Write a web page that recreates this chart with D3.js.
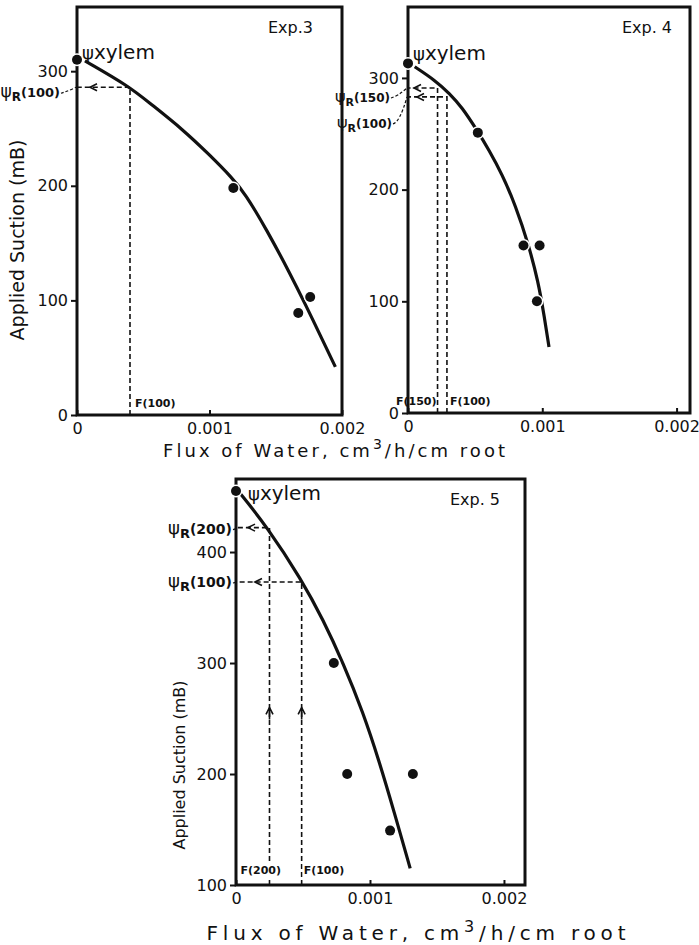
<!DOCTYPE html>
<html>
<head>
<meta charset="utf-8">
<script src="https://cdn.jsdelivr.net/npm/d3@7"></script>
<style>
  body { margin: 0; background: #fff; }
  text { font-family: "DejaVu Sans", sans-serif; fill: #111; }
</style>
</head>
<body>
<div id="chart"></div>
<script>
// flux ticks shared by all three panels (cm3/h/cm root)
var xTicks = [0, 0.001, 0.002];

// Exp. 3  -- [flux, suction mB]
var exp3YTicks = [0, 100, 200, 300];
var exp3Points = [[0, 310], [0.00118, 198], [0.00167, 89], [0.00176, 103]];
var exp3Curve = [[0.00006, 309], [0.00039, 287], [0.00055, 272], [0.0008, 249], [0.001, 227],
                 [0.00117, 207], [0.00127, 193], [0.00143, 162], [0.00161, 123], [0.00173, 95],
                 [0.00183, 71], [0.00195, 42]];
var exp3Refs = [["100", 0.0004, 286]];

// Exp. 4
var exp4YTicks = [0, 100, 200, 300];
var exp4Points = [[0, 313], [0.00052, 251], [0.00086, 150], [0.00098, 150], [0.00096, 100]];
var exp4Curve = [[0.00005, 310], [0.0002, 298], [0.00031, 286], [0.0004, 274], [0.00052, 252],
                 [0.0006, 236], [0.0007, 214], [0.0008, 186], [0.0009, 150], [0.00097, 117],
                 [0.00101, 90], [0.00105, 59]];
var exp4Refs = [["150", 0.00022, 291], ["100", 0.00029, 283]];

// Exp. 5
var exp5YTicks = [100, 200, 300, 400];
var exp5Points = [[0, 455], [0.00073, 300], [0.00083, 200], [0.00132, 200], [0.00115, 149]];
var exp5Curve = [[0.00003, 453], [0.00023, 423], [0.00049, 375], [0.00065, 339], [0.0008, 300],
                 [0.00095, 255], [0.00107, 211], [0.00118, 166], [0.0013, 115]];
var exp5Refs = [["200", 0.00025, 422], ["100", 0.00049, 373]];
var exp5UpArrow = 260;   // suction level of the upward arrows on the F lines

var svg = d3.select("#chart").append("svg")
    .attr("width", 699)
    .attr("height", 945);

svg.append("rect").attr("width", 699).attr("height", 945).attr("fill", "#fff");

function psiLabel(g, x, y, name, size) {
    var t = g.append("text")
        .attr("x", x).attr("y", y)
        .attr("text-anchor", "end")
        .style("font-weight", "bold");
    t.append("tspan").text("\u03c8").style("font-size", (size + 4) + "px").style("font-weight", "normal");
    t.append("tspan").text("R").attr("dy", 4).style("font-size", (size - 1) + "px");
    t.append("tspan").text("(" + name + ")").attr("dy", -4).style("font-size", size + "px");
    return t;
}

function drawPanel(p) {
    var g = svg.append("g");

    var x = d3.scaleLinear().domain([0, p.xMax]).range([p.left, p.right]);
    var y = d3.scaleLinear().domain([p.yMin, p.yMax]).range([p.bottom, p.top]);

    // y axis, ticks pointing out
    var ya = g.append("g")
        .attr("transform", "translate(" + p.left + ",0)")
        .call(d3.axisLeft(y).tickValues(p.yTicks).tickSize(6).tickPadding(3).tickFormat(d3.format("d")));
    ya.select(".domain").remove();
    ya.selectAll("line").attr("stroke", "#111").attr("stroke-width", 2);
    ya.selectAll("text").style("font-size", p.tickSize + "px").style("font-family", "DejaVu Sans");

    // x axis, ticks pointing in
    var xa = g.append("g")
        .attr("transform", "translate(0," + p.bottom + ")")
        .call(d3.axisBottom(x).tickValues(xTicks).tickSize(-5).tickPadding(p.xPad)
            .tickFormat(function (d) { return d === 0 ? "0" : d3.format(".3f")(d); }));
    xa.select(".domain").remove();
    xa.selectAll("line").attr("stroke", "#111").attr("stroke-width", 2);
    xa.selectAll("text").style("font-size", p.tickSize + "px").style("font-family", "DejaVu Sans");

    // frame
    g.append("rect")
        .attr("x", p.left).attr("y", p.top)
        .attr("width", p.right - p.left).attr("height", p.bottom - p.top)
        .attr("fill", "none").attr("stroke", "#111").attr("stroke-width", 3);

    // reference lines psi_R / F
    p.refs.forEach(function (r, i) {
        var fx = x(r[1]), fy = y(r[2]);
        g.append("path")
            .attr("d", "M" + fx + "," + p.bottom + "V" + fy + "H" + p.left)
            .attr("fill", "none").attr("stroke", "#111").attr("stroke-width", 1.6)
            .attr("stroke-dasharray", "5,3");
        var ax = p.left + p.arrowDx[i];
        g.append("path")
            .attr("d", "M" + (ax + 7) + "," + (fy - 3.5) + "L" + ax + "," + fy + "L" + (ax + 7) + "," + (fy + 3.5))
            .attr("fill", "none").attr("stroke", "#111").attr("stroke-width", 1.6);
        if (p.upArrow) {
            var uy = y(p.upArrow);
            g.append("path")
                .attr("d", "M" + fx + "," + (uy + 12) + "V" + uy + "M" + (fx - 3.5) + "," + (uy + 7) + "L" + fx + "," + uy + "L" + (fx + 3.5) + "," + (uy + 7))
                .attr("fill", "none").attr("stroke", "#111").attr("stroke-width", 1.6);
        }

        // psi_R label + leader
        var lp = p.psiPos[i];
        var lx = p.left + lp[0], ly = fy + lp[1];
        psiLabel(g, lx, ly, r[0], p.psiSize);
        g.append("path")
            .attr("d", "M" + (lx + 1) + "," + (ly - 4) + "Q" + (lx + 8) + "," + (ly - 6) + " " + (p.left - 1) + "," + fy)
            .attr("fill", "none").attr("stroke", "#111").attr("stroke-width", 1.2)
            .attr("stroke-dasharray", "3,2");

        // F label at the foot: [dx, height above frame bottom, anchor, white backing]
        var fp = p.fPos[i];
        var ft = g.append("text")
            .attr("x", fx + fp[0]).attr("y", p.bottom - fp[1])
            .attr("text-anchor", fp[2])
            .style("font-size", "11px").style("font-weight", "bold")
            .text("F(" + r[0] + ")");
        if (fp[3]) {
            var bb = ft.node().getBBox();
            g.insert("rect", function () { return ft.node(); })
                .attr("x", bb.x - 1).attr("y", bb.y).attr("width", bb.width + 2).attr("height", bb.height)
                .attr("fill", "#fff");
        }
    });

    // fitted curve (smoothed through the read-off points)
    g.append("path")
        .datum(p.curve)
        .attr("d", d3.line().x(function (d) { return x(d[0]); }).y(function (d) { return y(d[1]); })
            .curve(d3.curveBasis))
        .attr("fill", "none").attr("stroke", "#111").attr("stroke-width", 3.2);

    // measured points with white halo
    g.selectAll("circle.pt")
        .data(p.points)
        .enter()
        .append("circle")
        .attr("class", "pt")
        .attr("cx", function (d) { return x(d[0]); })
        .attr("cy", function (d) { return y(d[1]); })
        .attr("r", 5)
        .attr("fill", "#111")
        .attr("stroke", "#fff")
        .attr("stroke-width", 3)
        .attr("paint-order", "stroke");

    // psi xylem label
    var xp = p.points[0];
    var xt = g.append("text")
        .attr("x", x(xp[0]) + p.xylemPos[0])
        .attr("y", y(xp[1]) + p.xylemPos[1])
        .style("font-size", p.xylemSize + "px");
    xt.append("tspan").text("\u03c8").style("font-size", (p.xylemSize - 2) + "px");
    xt.append("tspan").text("xylem");

    // experiment name
    g.append("text")
        .attr("x", p.right - p.expPos[0]).attr("y", p.top + p.expPos[1])
        .attr("text-anchor", "end")
        .style("font-size", "16px")
        .text(p.name);
}

drawPanel({
    name: "Exp.3", left: 77, right: 342, top: 7, bottom: 415,
    xMax: 0.002, yMin: 0, yMax: 356, yTicks: exp3YTicks,
    points: exp3Points, curve: exp3Curve, refs: exp3Refs,
    arrowDx: [13], psiPos: [[-17, 10]], psiSize: 13, fPos: [[5, 8, "start", false]],
    xylemPos: [5, -1], xylemSize: 20, expPos: [29, 26], tickSize: 16, xPad: 8
});

drawPanel({
    name: "Exp. 4", left: 408, right: 690, top: 7, bottom: 413,
    xMax: 0.0021, yMin: 0, yMax: 363.5, yTicks: exp4YTicks,
    points: exp4Points, curve: exp4Curve, refs: exp4Refs,
    arrowDx: [6, 9], psiPos: [[-18, 14], [-16, 31]], psiSize: 12,
    fPos: [[-1, 8, "end", false], [3, 8, "start", false]],
    xylemPos: [5, -3], xylemSize: 20, expPos: [18, 26], tickSize: 16, xPad: 8
});

drawPanel({
    name: "Exp. 5", left: 236, right: 525, top: 479, bottom: 885,
    xMax: 0.002157, yMin: 100, yMax: 465.8, yTicks: exp5YTicks,
    points: exp5Points, curve: exp5Curve, refs: exp5Refs, upArrow: exp5UpArrow,
    arrowDx: [12, 19], psiPos: [[-4, 6], [-4, 5]], psiSize: 14,
    fPos: [[-29, 11, "start", true], [2, 11, "start", true]],
    xylemPos: [12, 9], xylemSize: 20, expPos: [25, 26], tickSize: 16, xPad: 8
});

// axis titles
function fluxTitle(cx, cy, size, len) {
    var t = svg.append("text")
        .attr("x", cx).attr("y", cy)
        .attr("text-anchor", "middle")
        .attr("textLength", len).attr("lengthAdjust", "spacing")
        .style("font-size", size + "px");
    t.append("tspan").text("Flux of Water, cm");
    t.append("tspan").text("3").attr("dy", -8).style("font-size", (size - 4) + "px");
    t.append("tspan").text("/h/cm root").attr("dy", 8);
}
fluxTitle(334, 457, 18, 342);
fluxTitle(416, 940, 20, 419);

svg.append("text")
    .attr("transform", "translate(24,240) rotate(-90)")
    .attr("text-anchor", "middle")
    .style("font-size", "19px")
    .text("Applied Suction (mB)");

svg.append("text")
    .attr("transform", "translate(185,765) rotate(-90)")
    .attr("text-anchor", "middle")
    .style("font-size", "16px")
    .text("Applied Suction (mB)");
</script>
</body>
</html>
